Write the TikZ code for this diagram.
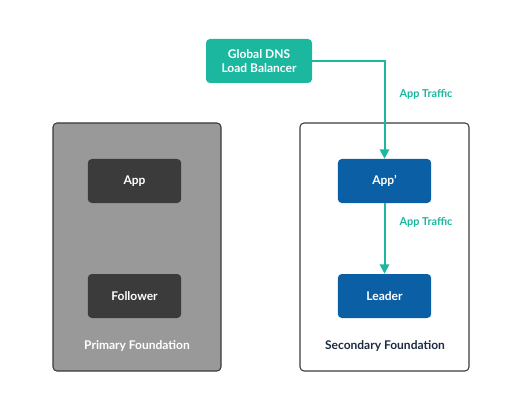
\documentclass[tikz,border=0pt]{standalone}
\usepackage{fontspec}
\setmainfont{Lato}
\usetikzlibrary{arrows.meta}
\definecolor{teal}{HTML}{1BB89F}
\definecolor{appgray}{HTML}{3B3B3B}
\definecolor{appblue}{HTML}{0B5FA5}
\definecolor{navy}{HTML}{1D2B40}
\definecolor{fgray}{HTML}{999999}
\tikzset{
  site/.style={draw=appgray,line width=0.8pt,rounded corners=3pt},
  svc/.style={rounded corners=3pt,minimum width=70pt,minimum height=33pt,text=white,font=\bfseries\fontsize{9}{11}\selectfont},
  traffic/.style={teal,line width=1.5pt,-{Triangle[length=7pt,width=7pt]}},
  lbl/.style={font=\bfseries\fontsize{9}{11}\selectfont}
}
\begin{document}
\begin{tikzpicture}[x=0.75pt,y=-0.75pt]
  \useasboundingbox[fill=white](0,0) rectangle (520,420);
  % foundations
  \draw[site,fill=fgray](53,123) rectangle (221,371);
  \draw[site,fill=white](300,123) rectangle (469,371);
  \node[lbl,text=white] (pf) at (137,346) {Primary Foundation};
  \node[lbl,text=navy] (sf) at (385,346) {Secondary Foundation};
  % services
  \node[svc,fill=appgray] (app) at (134.5,181) {App};
  \node[svc,fill=appgray] (follower) at (134.5,296) {Follower};
  \node[svc,fill=appblue] (appp) at (384.5,181) {App'};
  \node[svc,fill=appblue] (leader) at (384.5,296) {Leader};
  % load balancer
  \node[svc,fill=teal,minimum width=79.5pt,align=center] (dns) at (259,61) {Global DNS\\Load Balancer};
  % traffic
  \draw[traffic,rounded corners=0pt] (dns.east) -| (appp.north);
  \draw[traffic] (appp) -- (leader);
  \node[lbl,text=teal,font=\bfseries\fontsize{8.2}{10}\selectfont] (t1) at (426,94) {App Traffic};
  \node[lbl,text=teal,font=\bfseries\fontsize{8.2}{10}\selectfont] (t2) at (426,222) {App Traffic};
\end{tikzpicture}
\end{document}
